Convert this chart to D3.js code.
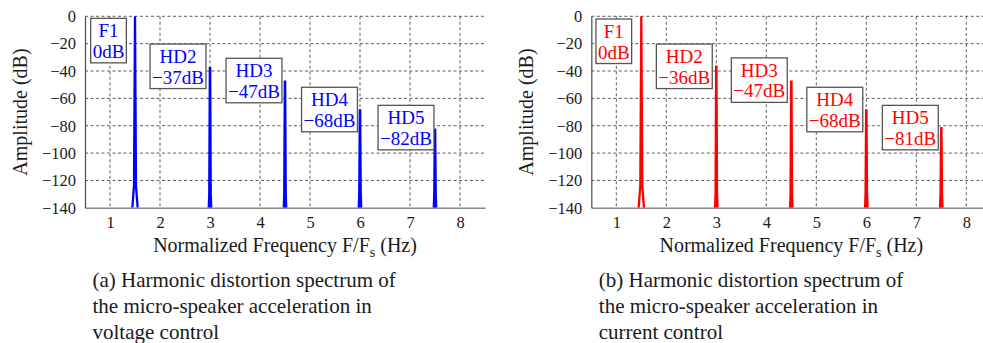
<!DOCTYPE html>
<html>
<head>
<meta charset="utf-8">
<script src="https://cdn.jsdelivr.net/npm/d3@7"></script>
<style>
  body { margin: 0; background: #fff; }
  svg { display: block; font-family: "Liberation Serif", "DejaVu Serif", serif; }
</style>
</head>
<body>
<div id="wrapper"></div>
<script>
// data
const xTicks = [1, 2, 3, 4, 5, 6, 7, 8];
const yTicks = [0, -20, -40, -60, -80, -100, -120, -140];
const peakNames = ["F1", "HD2", "HD3", "HD4", "HD5"];
const peakFreqs = [1.5, 3, 4.5, 6, 7.5];
const ampVoltage = [0, -37, -47, -68, -82];
const ampCurrent = [0, -36, -47, -68, -81];
// spike skirt shape (offset in F/Fs, level in dB) for fundamental and harmonics
const skirtF1 = { df: [-0.07, -0.02, 0, 0.02, 0.07], db: [-148, -124, null, -124, -148] };
const skirtHD = { df: [-0.03, -0.012, 0, 0.012, 0.03], db: [-148, -130, null, -130, -148] };
// label box anchors: centre x (F/Fs) and top (dB)
const labelXVoltage = [0.97, 2.36, 3.88, 5.39, 6.92];
const labelTopVoltage = [-1.5, -20.3, -30.7, -51.9, -65.1];
const labelXCurrent = [0.95, 2.36, 3.86, 5.37, 6.88];
const labelTopCurrent = [-2, -20.3, -30.4, -51.9, -65.1];
const captionA = ["(a) Harmonic distortion spectrum of", "the micro-speaker acceleration in", "voltage control"];
const captionB = ["(b) Harmonic distortion spectrum of", "the micro-speaker acceleration in", "current control"];

const width = 983;
const height = 343;
let dimensions = {
  plotWidth: 400,
  plotHeight: 191.5,
  margin: { top: 16.3, left: 85 },
};

const svg = d3.select('#wrapper')
  .append('svg')
  .attr('width', width)
  .attr('height', height);

svg.append('defs').append('clipPath')
  .attr('id', 'clip')
  .append('rect')
  .attr('x', 0).attr('y', -2)
  .attr('width', dimensions.plotWidth)
  .attr('height', dimensions.plotHeight + 2);

function drawPanel(offsetX, amps, color, labelX, labelTop, caption) {
  const bounds = svg.append('g')
    .attr('transform', `translate(${offsetX + dimensions.margin.left}, ${dimensions.margin.top})`);

  const xScale = d3.scaleLinear()
    .domain([0.5, 8.5])
    .range([0, dimensions.plotWidth]);
  const yScale = d3.scaleLinear()
    .domain([-140, 0])
    .range([dimensions.plotHeight, 0]);

  // grid
  const grid = bounds.append('g')
    .attr('stroke', '#333')
    .attr('stroke-width', 0.8)
    .attr('stroke-dasharray', '3 2.5');
  grid.selectAll('.gx')
    .data(xTicks)
    .enter().append('line')
    .attr('x1', d => xScale(d)).attr('x2', d => xScale(d))
    .attr('y1', 0).attr('y2', dimensions.plotHeight);
  grid.selectAll('.gy')
    .data(yTicks.filter(d => d > -140))
    .enter().append('line')
    .attr('x1', 0).attr('x2', dimensions.plotWidth)
    .attr('y1', d => yScale(d)).attr('y2', d => yScale(d));

  // spikes
  const line = d3.line()
    .x(d => xScale(d[0]))
    .y(d => yScale(d[1]));
  const spikes = bounds.append('g').attr('clip-path', 'url(#clip)');
  peakFreqs.forEach((f, i) => {
    const skirt = i === 0 ? skirtF1 : skirtHD;
    const pts = skirt.df.map((dx, j) => [f + dx, skirt.db[j] === null ? amps[i] : skirt.db[j]]);
    spikes.append('path')
      .attr('d', line(pts))
      .attr('fill', i === 0 ? 'none' : color)
      .attr('stroke', color)
      .attr('stroke-width', i === 0 ? 2.3 : 2.6)
      .attr('stroke-linejoin', 'miter');
  });

  // axes
  const xAxis = bounds.append('g')
    .attr('transform', `translate(0, ${dimensions.plotHeight})`)
    .call(d3.axisBottom(xScale).tickValues(xTicks).tickSize(0).tickPadding(8));
  xAxis.select('.domain').attr('stroke', '#888').attr('stroke-width', 1.5);
  xAxis.selectAll('text')
    .style('font-family', '"Liberation Serif", serif')
    .style('font-size', '16.5px')
    .attr('fill', '#1a1a1a');

  const yAxis = bounds.append('g')
    .call(d3.axisLeft(yScale).tickValues(yTicks).tickSize(0).tickPadding(9)
      .tickFormat(d => d < 0 ? '\u2212' + Math.abs(d) : d));
  yAxis.select('.domain').attr('stroke', '#555').attr('stroke-width', 1.3);
  yAxis.selectAll('text')
    .style('font-family', '"Liberation Serif", serif')
    .style('font-size', '16.5px')
    .attr('fill', '#1a1a1a');

  // axis titles
  const xTitle = bounds.append('text')
    .attr('x', dimensions.plotWidth / 2)
    .attr('y', dimensions.plotHeight + 44)
    .attr('text-anchor', 'middle')
    .attr('fill', '#1a1a1a')
    .style('font-size', '20px');
  xTitle.append('tspan').text('Normalized Frequency F/F');
  xTitle.append('tspan').attr('dy', 5).style('font-size', '14px').text('s');
  xTitle.append('tspan').attr('dy', -5).text(' (Hz)');

  bounds.append('text')
    .attr('transform', `translate(${-58}, ${dimensions.plotHeight / 2}) rotate(-90)`)
    .attr('text-anchor', 'middle')
    .attr('fill', '#1a1a1a')
    .style('font-size', '20px')
    .text('Amplitude (dB)');

  // labels
  peakNames.forEach((name, i) => {
    const lab = bounds.append('g');
    const cx = xScale(labelX[i]);
    const top = yScale(labelTop[i]);
    const valueText = (amps[i] < 0 ? '\u2212' + Math.abs(amps[i]) : amps[i]) + 'dB';
    const rect = lab.append('rect');
    const t1 = lab.append('text')
      .attr('x', cx).attr('y', top + 19)
      .attr('text-anchor', 'middle')
      .attr('fill', color)
      .style('font-size', '19px')
      .text(name);
    const t2 = lab.append('text')
      .attr('x', cx).attr('y', top + 39.5)
      .attr('text-anchor', 'middle')
      .attr('fill', color)
      .style('font-size', '19px')
      .text(valueText);
    const w = Math.max(t1.node().getBBox().width, t2.node().getBBox().width) + 4;
    rect.attr('x', cx - w / 2)
      .attr('y', top)
      .attr('width', w)
      .attr('height', 44.5)
      .attr('fill', '#fff')
      .attr('stroke', '#555')
      .attr('stroke-width', 1.3);
  });

  // caption
  svg.append('g')
    .selectAll('text')
    .data(caption)
    .enter().append('text')
    .attr('x', offsetX + 92.5)
    .attr('y', (d, i) => 286.5 + i * 26)
    .attr('fill', '#1a1a1a')
    .style('font-size', '21px')
    .text(d => d);
}

drawPanel(0, ampVoltage, '#0000ff', labelXVoltage, labelTopVoltage, captionA);
drawPanel(506.3, ampCurrent, '#ff0000', labelXCurrent, labelTopCurrent, captionB);
</script>
</body>
</html>
